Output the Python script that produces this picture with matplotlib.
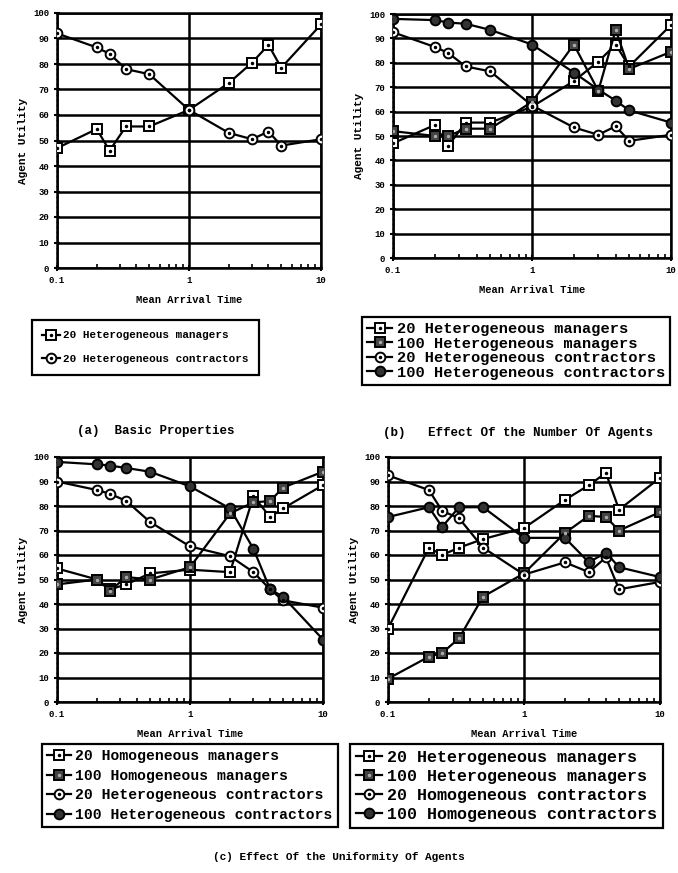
import numpy as np
import matplotlib
matplotlib.use('Agg')
import matplotlib.pyplot as plt
from matplotlib.ticker import MultipleLocator, FixedLocator, LogLocator, NullFormatter
from matplotlib.legend_handler import HandlerTuple

plt.rcParams['font.family'] = ['Liberation Mono', 'DejaVu Sans Mono']
plt.rcParams['font.weight'] = 'bold'

# mean arrival time (x values shared by every panel)
arrival = [0.1, 0.2, 0.25, 0.333, 0.5, 1, 2, 3, 4, 5, 10]

# (a) basic properties
a_het_mgr20 = [47, 54.5, 46, 55.5, 55.5, 62, 72.5, 80.5, 87.5, 78.5, 95.5]
a_het_con20 = [92, 86.5, 84, 78, 76, 62, 53, 50.5, 53.5, 48, 50.5]

# (b) number of agents
b_het_mgr20 = [47, 54.5, 46, 55.5, 55.5, 62, 72.5, 80.5, 87.5, 78.5, 95.5]
b_het_mgr100 = [52, 50, 50, 53, 53, 64, 87.5, 68.5, 93.5, 77.5, 84.5]
b_het_con20 = [92.5, 86.5, 84, 78.5, 76.5, 62.5, 53.5, 50.5, 54, 48, 50.5]
b_het_con100 = [98, 97.5, 96.5, 96, 93.5, 87.5, 76, 69, 64.5, 60.5, 55.5]

# (c) uniformity, left
cl_hom_mgr20 = [54.5, 50, 46, 48, 52.5, 54, 53, 84, 75.5, 79, 88.5]
cl_hom_mgr100 = [48, 50, 45.5, 51, 50, 55, 77, 81.5, 82, 87.5, 94]
cl_het_con20 = [90, 86.5, 85, 82, 73.5, 63.5, 59.5, 53, 46, 41.5, 38.5]
cl_het_con100 = [98, 97, 96.5, 95.5, 94, 88, 79, 62.5, 46, 43, 25.5]

# (c) uniformity, right
cr_het_mgr20 = [30, 63, 60, 63, 66.5, 71, 82.5, 88.5, 93.5, 78.5, 91.5]
cr_het_mgr100 = [9.5, 18.5, 20, 26, 43, 52.5, 69, 76, 75.5, 70, 77.5]
cr_hom_con20 = [92.5, 86.5, 78, 75, 63, 52, 57, 53, 59, 46, 49]
cr_hom_con100 = [75.5, 79.5, 71.5, 79.5, 79.5, 67, 67, 57, 61, 55, 51]

xticks = [0.1, 1, 10]
xticklabels = ['0.1', '1', '10']

# marker styles: open square, dark square, open circle, dark circle
styles = {
    'sq_open': dict(marker='s', mfc='white', dot='black'),
    'sq_fill': dict(marker='s', mfc='#444444', dot='#aaaaaa'),
    'ci_open': dict(marker='o', mfc='white', dot='black'),
    'ci_fill': dict(marker='o', mfc='#333333', dot=None),
}

fig = plt.figure(figsize=(6.78, 8.73), dpi=100)
W, H = 678, 873


def px_axes(l, t, r, b):
    return fig.add_axes([l / W, 1 - b / H, (r - l) / W, (b - t) / H])


def draw_panel(ax, series):
    handles = []
    for vals, style, label in series:
        st = styles[style]
        ln, = ax.plot(arrival, vals, color='black', lw=1.6, marker=st['marker'],
                      ms=7, mfc=st['mfc'], mec='black', mew=1.4, zorder=3)
        h = [ln]
        if st['dot']:
            d, = ax.plot(arrival, vals, ls='none', marker='.', ms=3,
                         color=st['dot'], zorder=4)
            h.append(d)
        handles.append((tuple(h), label))
    ax.set_xscale('log')
    ax.set_xlim(0.1, 10)
    ax.set_ylim(0, 100)
    ax.xaxis.set_major_locator(FixedLocator(xticks))
    ax.set_xticklabels(xticklabels)
    ax.xaxis.set_minor_locator(LogLocator(base=10, subs=np.arange(2, 10)))
    ax.xaxis.set_minor_formatter(NullFormatter())
    ax.yaxis.set_major_locator(MultipleLocator(10))
    ax.yaxis.set_minor_locator(MultipleLocator(2))
    ax.grid(which='major', color='black', lw=1.8)
    ax.set_axisbelow(True)
    for s in ax.spines.values():
        s.set_linewidth(1.8)
    ax.tick_params(axis='both', which='major', labelsize=6.5, width=1.5, length=4, direction='inout')
    ax.tick_params(axis='x', which='minor', width=1.2, length=3, direction='in')
    ax.tick_params(axis='y', which='minor', width=1, length=2, direction='inout')
    ax.tick_params(axis='x', which='major', pad=4)
    ax.set_ylabel('Agent Utility', fontsize=8, fontweight='bold', labelpad=4)
    ax.set_xlabel('Mean Arrival Time', fontsize=7.5, fontweight='bold', labelpad=7)
    return handles


def add_legend(handles, x, y, size, spacing, pad=0.35):
    hs = [h for h, _ in handles]
    ls = [lab for _, lab in handles]
    lg = fig.legend(hs, ls, loc='upper left', bbox_to_anchor=(x / W, 1 - y / H),
                    handler_map={tuple: HandlerTuple(ndivide=1)},
                    fontsize=size, frameon=True, fancybox=False, framealpha=1,
                    edgecolor='black', handlelength=1.6, handletextpad=0.3,
                    borderpad=pad, labelspacing=spacing, borderaxespad=0)
    lg.get_frame().set_linewidth(1.6)
    return lg


ax_a = px_axes(57, 13, 321, 268)
h_a = draw_panel(ax_a, [
    (a_het_mgr20, 'sq_open', '20 Heterogeneous managers'),
    (a_het_con20, 'ci_open', '20 Heterogeneous contractors'),
])
add_legend(h_a, 32, 320, 7.9, 1.25, pad=0.95)

ax_b = px_axes(393, 14, 671, 258)
h_b = draw_panel(ax_b, [
    (b_het_mgr20, 'sq_open', '20 Heterogeneous managers'),
    (b_het_mgr100, 'sq_fill', '100 Heterogeneous managers'),
    (b_het_con20, 'ci_open', '20 Heterogeneous contractors'),
    (b_het_con100, 'ci_fill', '100 Heterogeneous contractors'),
])
add_legend(h_b, 362, 317, 11.1, 0.03)

ax_cl = px_axes(57, 457, 323, 702)
h_cl = draw_panel(ax_cl, [
    (cl_hom_mgr20, 'sq_open', '20 Homogeneous managers'),
    (cl_hom_mgr100, 'sq_fill', '100 Homogeneous managers'),
    (cl_het_con20, 'ci_open', '20 Heterogeneous contractors'),
    (cl_het_con100, 'ci_fill', '100 Heterogeneous contractors'),
])
add_legend(h_cl, 42, 744, 10.6, 0.38)

ax_cr = px_axes(388, 457, 660, 702)
h_cr = draw_panel(ax_cr, [
    (cr_het_mgr20, 'sq_open', '20 Heterogeneous managers'),
    (cr_het_mgr100, 'sq_fill', '100 Heterogeneous managers'),
    (cr_hom_con20, 'ci_open', '20 Homogeneous contractors'),
    (cr_hom_con100, 'ci_fill', '100 Homogeneous contractors'),
])
add_legend(h_cr, 350, 744, 12, 0.25)

# captions
fig.text(77 / W, 1 - 431 / H, '(a)  Basic Properties', fontsize=9, fontweight='bold', va='center')
fig.text(383 / W, 1 - 433 / H, '(b)   Effect Of the Number Of Agents', fontsize=9, fontweight='bold', va='center')
fig.text(0.5, 1 - 857 / H, '(c) Effect Of the Uniformity Of Agents', fontsize=8, fontweight='bold',
         ha='center', va='center')

fig.savefig('out.png', dpi=100)
